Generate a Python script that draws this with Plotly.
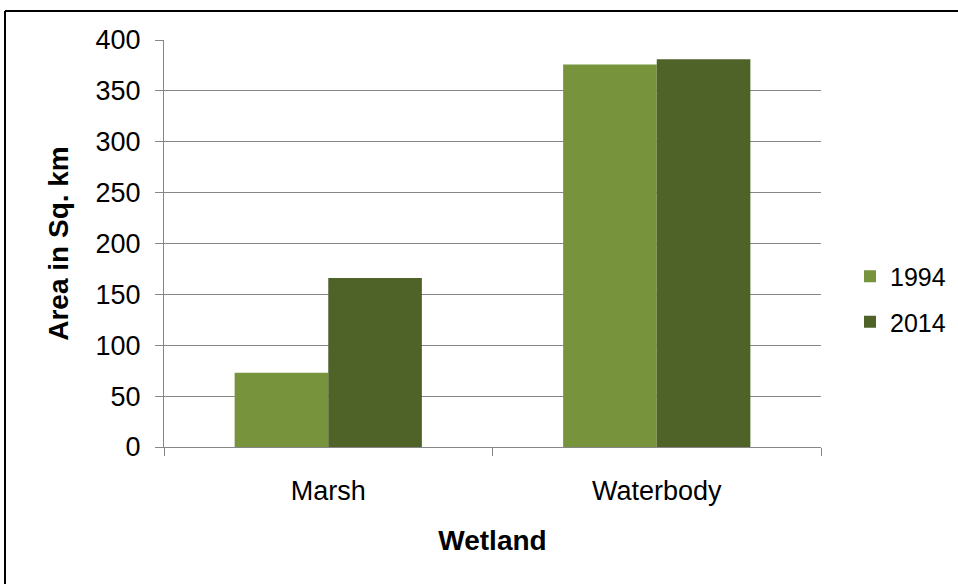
import plotly.graph_objects as go

categories = ["Marsh", "Waterbody"]
series_names = ["1994", "2014"]
values_1994 = [73, 376]
values_2014 = [166, 381]
y_ticks = [0, 50, 100, 150, 200, 250, 300, 350, 400]

colors = ["#77933C", "#4F6228"]

W, H = 958, 584
ml, mr, mt, mb = 164, 137, 40, 137
pw = W - ml - mr
ph = H - mt - mb

def px_x(x):
    return (x - ml) / pw

def px_y(y):
    return (H - mb - y) / ph

fig = go.Figure()
for i, (name, vals) in enumerate(zip(series_names, [values_1994, values_2014])):
    fig.add_trace(go.Bar(
        x=categories, y=vals, name=name,
        marker=dict(color=colors[i], line=dict(width=0)),
        legendgroup=name,
    ))

axis_gray = "#868686"
fig.update_layout(
    width=W, height=H,
    margin=dict(l=ml, r=mr, t=mt, b=mb, pad=0, autoexpand=False),
    paper_bgcolor="white", plot_bgcolor="white",
    font=dict(family="Liberation Sans, Arial, sans-serif", color="black", size=25),
    barmode="group", bargap=0.43, bargroupgap=0,
    showlegend=True,
    legend=dict(
        x=px_x(850), y=px_y(299), xanchor="left", yanchor="middle",
        font=dict(size=25), tracegroupgap=10, bgcolor="rgba(0,0,0,0)",
    ),
    xaxis=dict(
        showline=True, linecolor=axis_gray, linewidth=1,
        ticks="outside", tickson="boundaries", ticklen=8, tickcolor=axis_gray,
        showgrid=False, ticklabelstandoff=20,
        title=dict(text="<b>Wetland</b>", font=dict(size=28), standoff=24),
        tickfont=dict(size=27),
    ),
    yaxis=dict(
        range=[0, 400], tickvals=y_ticks,
        showline=True, linecolor=axis_gray, linewidth=1,
        ticks="outside", ticklen=8, tickcolor=axis_gray,
        showgrid=True, gridcolor=axis_gray, gridwidth=1,
        zeroline=False, ticklabelstandoff=9,
        title=dict(text="<b>Area in Sq. km</b>", font=dict(size=28), standoff=18),
        tickfont=dict(size=27),
    ),
    shapes=[
        dict(type="line", xref="paper", yref="paper",
             x0=px_x(5), x1=px_x(958), y0=px_y(11), y1=px_y(11),
             line=dict(color="black", width=2)),
        dict(type="line", xref="paper", yref="paper",
             x0=px_x(5), x1=px_x(5), y0=px_y(11), y1=px_y(584),
             line=dict(color="black", width=2)),
    ],
)

fig.write_html("out.html", config={"displayModeBar": False},
               post_script="document.body.style.margin='0';")
